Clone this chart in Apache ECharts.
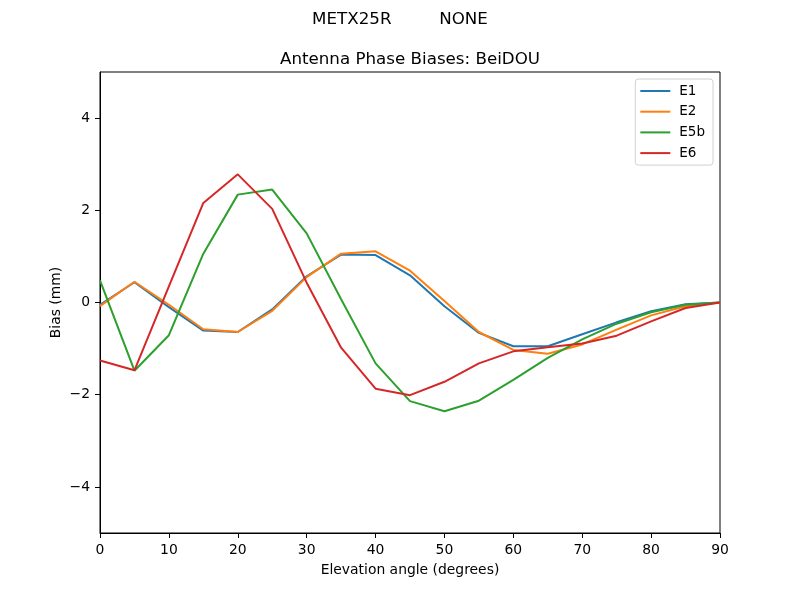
<!DOCTYPE html>
<html>
<head>
<meta charset="utf-8">
<script src="https://cdn.jsdelivr.net/npm/echarts@6/dist/echarts.min.js"></script>
<style>
  html, body { margin: 0; padding: 0; background: #fff; }
  #chart { width: 800px; height: 600px; }
</style>
</head>
<body>
<div id="chart"></div>
<script>
// 高度角（度）
var elevation = [0, 5, 10, 15, 20, 25, 30, 35, 40, 45, 50, 55, 60, 65, 70, 75, 80, 85, 90];

// 各频点相位偏差 (mm)
var e1 = [-0.05, 0.44, -0.1, -0.61, -0.64, -0.15, 0.57, 1.04, 1.03, 0.59, -0.08, -0.66, -0.95, -0.95, -0.69, -0.43, -0.19, -0.04, 0];
var e2 = [-0.08, 0.45, -0.05, -0.58, -0.64, -0.18, 0.55, 1.06, 1.11, 0.69, 0.03, -0.64, -1.03, -1.11, -0.91, -0.59, -0.28, -0.08, 0];
var e5b = [0.48, -1.48, -0.71, 1.06, 2.34, 2.45, 1.5, 0.07, -1.32, -2.14, -2.36, -2.13, -1.68, -1.2, -0.8, -0.46, -0.21, -0.05, 0];
var e6 = [-1.26, -1.47, 0.35, 2.16, 2.78, 2.03, 0.43, -0.98, -1.87, -2.01, -1.72, -1.32, -1.06, -0.97, -0.89, -0.72, -0.41, -0.12, 0];

var seriesNames = ["E1", "E2", "E5b", "E6"];
var seriesData = [e1, e2, e5b, e6];
var colors = ["#1f77b4", "#ff7f0e", "#2ca02c", "#d62728"];

// 纵轴刻度
var yTicks = [-4, -2, 0, 2, 4];

var font = "DejaVu Sans";

var chartDom = document.getElementById("chart");
var myChart = echarts.init(chartDom, null, { renderer: "canvas" });

function minus(v) {
  return String(v).replace("-", "\u2212");
}

var option = {
  animation: false,
  color: colors,
  textStyle: { fontFamily: font },
  title: [
    {
      text: "METX25R         NONE",
      left: "center",
      top: 6,
      textStyle: { fontFamily: font, fontSize: 16.7, fontWeight: "normal", color: "#000" },
    },
    {
      text: "Antenna Phase Biases: BeiDOU",
      left: 405,
      textAlign: "center",
      top: 46,
      textStyle: { fontFamily: font, fontSize: 16.7, fontWeight: "normal", color: "#000" },
    },
  ],
  legend: {
    orient: "vertical",
    right: 87,
    top: 79,
    data: seriesNames,
    icon: "rect",
    itemWidth: 30,
    itemHeight: 2,
    itemGap: 6.7,
    padding: [5, 8, 5, 5],
    backgroundColor: "#fff",
    borderColor: "#d0d0d0",
    borderWidth: 1,
    borderRadius: 3,
    textStyle: { fontFamily: font, fontSize: 13.5, color: "#000", padding: [0, 0, 0, 4] },
  },
  grid: {
    left: 100,
    right: 80,
    top: 72,
    bottom: 67,
    show: true,
    borderColor: "#000",
    borderWidth: 1,
    backgroundColor: "transparent",
  },
  xAxis: {
    type: "value",
    min: 0,
    max: 90,
    interval: 10,
    name: "Elevation angle (degrees)",
    nameLocation: "middle",
    nameGap: 30,
    nameMoveOverlap: false,
    nameTextStyle: { fontFamily: font, fontSize: 13.9, color: "#000" },
    axisLine: { show: true, onZero: false, lineStyle: { color: "#000", width: 1 } },
    axisTick: { show: true, inside: false, length: 5, lineStyle: { color: "#000" } },
    axisLabel: { fontFamily: font, fontSize: 13.9, color: "#000", margin: 10 },
    splitLine: { show: false },
  },
  yAxis: {
    type: "value",
    min: -5,
    max: 5,
    name: "Bias (mm)",
    nameLocation: "middle",
    nameGap: 37,
    nameMoveOverlap: false,
    nameTextStyle: { fontFamily: font, fontSize: 13.9, color: "#000" },
    axisLine: { show: true, onZero: false, lineStyle: { color: "#000", width: 1 } },
    axisTick: { show: true, inside: false, length: 5, customValues: yTicks, lineStyle: { color: "#000" } },
    axisLabel: {
      fontFamily: font,
      fontSize: 13.9,
      color: "#000",
      margin: 10,
      customValues: yTicks,
      formatter: function (v) { return minus(v); },
    },
    splitLine: { show: false },
  },
  series: seriesNames.map(function (name, k) {
    return {
      name: name,
      type: "line",
      symbol: "none",
      lineStyle: { width: 2, color: colors[k] },
      data: elevation.map(function (x, i) { return [x, seriesData[k][i]]; }),
    };
  }),
};

myChart.setOption(option);

window.addEventListener("resize", function () {
  myChart.resize();
});
</script>
</body>
</html>
